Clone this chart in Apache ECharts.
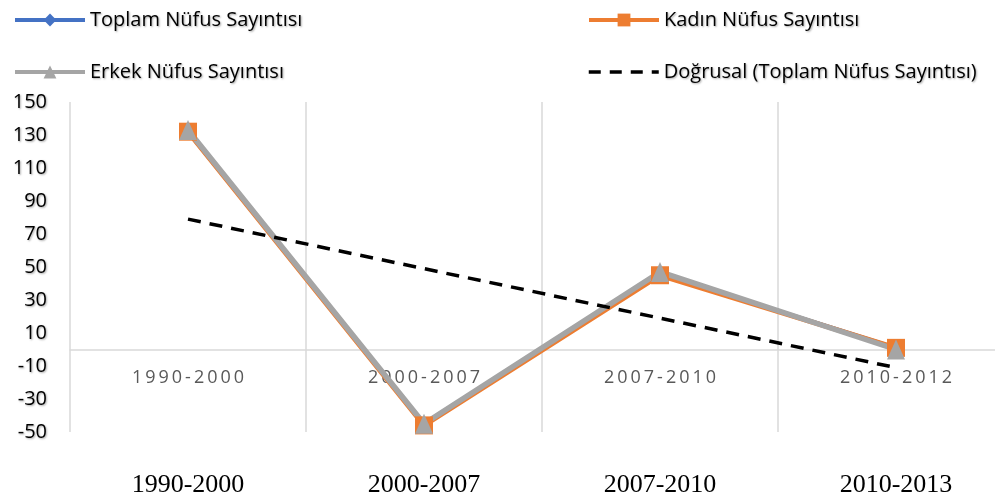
<!DOCTYPE html>
<html>
<head>
<meta charset="utf-8">
<script src="https://cdn.jsdelivr.net/npm/echarts@6/dist/echarts.min.js"></script>
<style>
  html, body { margin: 0; padding: 0; background: #fff; }
  #main { width: 995px; height: 499px; }
</style>
</head>
<body>
<div id="main"></div>
<script>
var periods = ['1990-2000', '2000-2007', '2007-2010', '2010-2012'];
var periodsBottom = ['1990-2000', '2000-2007', '2007-2010', '2010-2013'];
var toplam = [132, -45, 46, 1];
var kadin = [132, -46, 45, 1];
var erkek = [133, -45, 47, 0];
var trend = [79, 49, 19, -11];

var shadow = {
    textShadowColor: 'rgba(0,0,0,0.35)',
    textShadowBlur: 2,
    textShadowOffsetX: 1,
    textShadowOffsetY: 1
};

function spaced(s) {
    return s.split('').join('\u2009');
}

function legendAt(name, left, top, hideSymbol) {
    var lg = {
        data: [name],
        left: left,
        top: top,
        itemWidth: 70,
        itemHeight: 16,
        itemGap: 8,
        lineStyle: { width: 4 },
        textStyle: Object.assign({
            fontFamily: 'Open Sans',
            fontSize: 20,
            color: '#000'
        }, shadow)
    };
    if (hideSymbol) {
        lg.itemStyle = { color: 'rgba(0,0,0,0)', borderWidth: 0 };
        lg.lineStyle = { width: 3.5, color: '#000', type: [12, 9] };
    }
    return lg;
}

var myChart = echarts.init(document.getElementById('main'));
var option = {
    animation: false,
    legend: [
        legendAt('Toplam Nüfus Sayıntısı', 8, 5),
        legendAt('Kadın Nüfus Sayıntısı', 582, 5),
        legendAt('Erkek Nüfus Sayıntısı', 8, 57),
        legendAt('Doğrusal (Toplam Nüfus Sayıntısı)', 582, 57, true)
    ],
    grid: {
        left: 70,
        top: 102,
        width: 944,
        height: 330,
        outerBoundsMode: 'none'
    },
    xAxis: [
        {
            type: 'category',
            data: periods,
            boundaryGap: true,
            position: 'bottom',
            offset: -82,
            axisLine: { onZero: false, lineStyle: { color: '#d9d9d9', width: 1.5 } },
            axisTick: { show: false },
            splitLine: { show: true, lineStyle: { color: '#d9d9d9', width: 1.5 } },
            axisLabel: {
                margin: 19,
                fontFamily: 'Open Sans',
                fontSize: 18,
                color: '#595959',
                formatter: function (v) { return spaced(v); }
            }
        },
        {
            type: 'category',
            data: periodsBottom,
            position: 'bottom',
            boundaryGap: true,
            axisLine: { show: false },
            axisTick: { show: false },
            splitLine: { show: false },
            axisLabel: {
                margin: 40,
                fontFamily: 'Liberation Serif',
                fontSize: 26,
                color: '#000'
            }
        }
    ],
    yAxis: [
        {
            type: 'value',
            min: -50,
            max: 150,
            interval: 20,
            axisLine: { show: false },
            axisTick: { show: false },
            splitLine: { show: false },
            axisLabel: Object.assign({
                margin: 23,
                fontFamily: 'Open Sans',
                fontSize: 20,
                color: '#000'
            }, shadow)
        }
    ],
    series: [
        {
            name: 'Toplam Nüfus Sayıntısı',
            type: 'line',
            data: toplam,
            symbol: 'diamond',
            symbolSize: 14,
            color: '#4472C4',
            lineStyle: { width: 4, color: '#4472C4' },
            itemStyle: { color: '#4472C4' }
        },
        {
            name: 'Kadın Nüfus Sayıntısı',
            type: 'line',
            data: kadin,
            symbol: 'rect',
            symbolSize: 18,
            color: '#ED7D31',
            lineStyle: { width: 5, color: '#ED7D31' },
            itemStyle: { color: '#ED7D31' }
        },
        {
            name: 'Erkek Nüfus Sayıntısı',
            type: 'line',
            data: erkek,
            symbol: 'triangle',
            symbolSize: [18, 20],
            color: '#A5A5A5',
            lineStyle: { width: 5.5, color: '#A5A5A5' },
            itemStyle: { color: '#A5A5A5' }
        },
        {
            name: 'Doğrusal (Toplam Nüfus Sayıntısı)',
            type: 'line',
            data: trend,
            symbol: 'none',
            color: '#000',
            lineStyle: { width: 3.5, color: '#000', type: [13, 9] },
            itemStyle: { color: '#000' }
        }
    ]
};
myChart.setOption(option);
</script>
</body>
</html>
